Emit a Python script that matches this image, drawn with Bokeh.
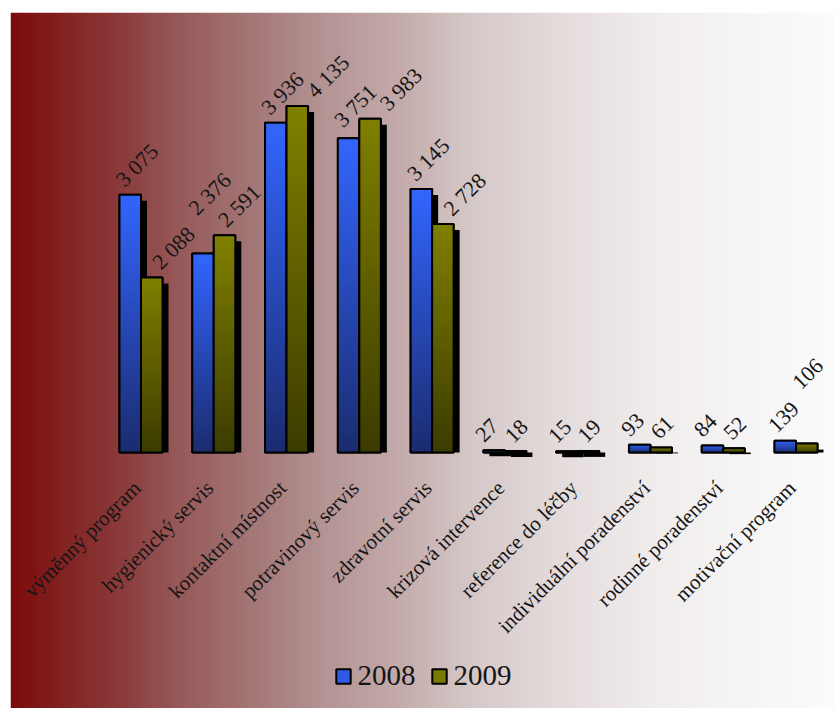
import numpy as np
from bokeh.plotting import figure
from bokeh.models import Range1d, Legend, LegendItem, ColumnDataSource
from bokeh.core.properties import value
from bokeh.embed import file_html
from bokeh.resources import INLINE

# ---------------- data ----------------
categories = ["výměnný program", "hygienický servis", "kontaktní místnost",
              "potravinový servis", "zdravotní servis", "krizová intervence",
              "reference do léčby", "individuální poradenství",
              "rodinné poradenství", "motivační program"]
values_2008 = [3075, 2376, 3936, 3751, 3145, 27, 15, 93, 84, 139]
values_2009 = [2088, 2591, 4135, 3983, 2728, 18, 19, 61, 52, 106]
series_names = ["2008", "2009"]

# ---------------- layout ----------------
W, H = 835, 708
BL, BT = 10, 12                    # frame borders (left, top)
FW, FH = W - BL, H - BT            # frame size in px
PX_CAT = 72.78                     # px per category
CAT0 = 130.5                       # px from frame left to first category centre
PX_VAL = 0.0838                    # px per unit value
BASE = 440.0                       # px from frame top to the zero line

x_start = -CAT0 / PX_CAT
x_end = x_start + FW / PX_CAT
y_end = BASE / PX_VAL
y_start = y_end - FH / PX_VAL

BAR_PX = 21.5
BAR_W = BAR_PX / PX_CAT
SH_PX = 6
SH_DX = SH_PX / PX_CAT
SH_DY = SH_PX / PX_VAL

FONT = "Liberation Serif"
VAL_FS = 22
CAT_FS = 21


def px_x(xd):
    return BL + CAT0 + PX_CAT * np.asarray(xd, dtype=float)


def px_y(yd):
    return BT + BASE - PX_VAL * np.asarray(yd, dtype=float)


def rgba(colors):
    arr = np.array(colors, dtype=np.uint8)
    out = np.zeros(arr.shape[:-1] + (4,), dtype=np.uint8)
    out[..., :3] = arr
    out[..., 3] = 255
    return out.view(dtype=np.uint32).reshape(arr.shape[:-1])


def interp_stops(stops, n):
    pos = np.array([s[0] for s in stops])
    cols = np.array([s[1] for s in stops], dtype=float)
    t = np.linspace(0, 1, n)
    return np.stack([np.interp(t, pos, cols[:, k]) for k in range(3)], axis=-1)


p = figure(width=W, height=H, x_range=Range1d(x_start, x_end),
           y_range=Range1d(y_start, y_end), output_backend="svg",
           toolbar_location=None, x_axis_location=None, y_axis_location=None,
           min_border_left=BL, min_border_top=BT, min_border_right=0,
           min_border_bottom=0, border_fill_color="white",
           outline_line_color=None)
p.xgrid.visible = False
p.ygrid.visible = False

# background gradient (dark red -> white, left to right)
bg_stops = [(0.0, (124, 12, 12)), (0.13, (138, 58, 58)), (0.20, (150, 88, 88)),
            (0.29, (164, 118, 118)), (0.38, (180, 148, 148)), (0.47, (196, 170, 170)),
            (0.55, (212, 198, 198)), (0.66, (228, 219, 219)), (0.78, (241, 237, 237)),
            (1.0, (252, 252, 252))]
bg = rgba(interp_stops(bg_stops, 400)[None, :, :])
p.image_rgba(image=[bg], x=x_start, y=y_start, dw=x_end - x_start, dh=y_end - y_start)

idx = np.arange(len(categories), dtype=float)
series = [
    dict(vals=values_2008, left=idx - BAR_W, top_col=(51, 102, 255), bot_col=(27, 44, 112), mid="#2f5ae6"),
    dict(vals=values_2009, left=idx.copy(), top_col=(128, 128, 0), bot_col=(60, 60, 0), mid="#7a7a00"),
]

# shadows
for s in series:
    v = np.array(s["vals"], dtype=float)
    p.quad(left=s["left"] + SH_DX, right=s["left"] + BAR_W + SH_DX, bottom=0,
           top=v - SH_DY, fill_color="black", line_color=None)

legend_items = []
for s, name in zip(series, series_names):
    v = np.array(s["vals"], dtype=float)
    src = ColumnDataSource(dict(left=s["left"], right=s["left"] + BAR_W,
                                top=v, bottom=np.zeros_like(v)))
    r = p.quad(left="left", right="right", top="top", bottom="bottom", source=src,
               fill_color=s["mid"], line_color="black", line_width=2)
    legend_items.append(LegendItem(label=name, renderers=[r]))
    grad = rgba(interp_stops([(0, s["bot_col"]), (1, s["top_col"])], 128)[:, None, :])
    p.image_rgba(image=[grad] * len(v), x=list(s["left"]), y=[0] * len(v),
                 dw=[BAR_W] * len(v), dh=list(v))
    p.quad(left="left", right="right", top="top", bottom="bottom", source=src,
           fill_color=None, line_color="black", line_width=2)


# ---------------- value labels: rotated 45 deg, placed greedily without overlaps ----------------
def fmt(a):
    return f"{int(a):,}".replace(",", " ")


def text_len(t):
    return VAL_FS * sum(0.25 if ch == " " else 0.5 for ch in t)


R2 = np.sqrt(0.5)
U = np.array([R2, -R2])     # text direction (screen coords)
N = np.array([R2, R2])      # perpendicular, pointing down-right
TXT_H = 20.0
PAD_L = 14.0                # extra gap along the text direction between labels
AXES = [np.array([1.0, 0.0]), np.array([0.0, 1.0]), U, N]


def label_poly(c, L, h=TXT_H):
    return [c + a * L / 2 * U + b * h / 2 * N for a in (-1, 1) for b in (-1, 1)]


def rect_poly(x0, y0, x1, y1):
    return [np.array([x0, y0]), np.array([x1, y0]), np.array([x0, y1]), np.array([x1, y1])]


def overlap(P, Q):
    for ax in AXES:
        pp = [float(pt @ ax) for pt in P]
        qq = [float(pt @ ax) for pt in Q]
        if max(pp) <= min(qq) or max(qq) <= min(pp):
            return False
    return True


obstacles = []
for s in series:
    for i, a in enumerate(s["vals"]):
        x0 = float(px_x(s["left"][i])) - 1
        x1 = float(px_x(s["left"][i] + BAR_W)) + SH_PX + 1
        y0 = float(px_y(a)) - 1
        obstacles.append(rect_poly(x0, y0, x1, float(px_y(0))))

placed = []
offsets = {0: [None] * len(categories), 1: [None] * len(categories)}
label_txt = {0: [None] * len(categories), 1: [None] * len(categories)}
DIRS = [np.array([1.0, 0.0]), np.array([0.0, -1.0]), np.array([0.0, 1.0]), np.array([-1.0, 0.0])]
for i in range(len(categories)):
    for si, s in enumerate(series):
        a = s["vals"][i]
        t = fmt(a)
        L = text_len(t)
        anchor = np.array([float(px_x(s["left"][i] + BAR_W / 2)), float(px_y(a))])
        half = (L + TXT_H) * R2 / 2
        xmax = W - 7 - (L + 25) * R2 / 2
        dx = 0.5 * (L - 22) + (-7 if si == 0 else 1)
        dy = -(5 + half)
        c0 = anchor + np.array([dx, dy])
        c0[0] = min(c0[0], xmax)
        best = c0
        found = False
        for k in range(0, 90):
            for d in DIRS:
                c = c0 + k * d
                if c[0] > xmax:
                    continue
                padded = label_poly(c, L + PAD_L)
                if any(overlap(padded, q) for q in placed):
                    continue
                if any(overlap(label_poly(c, L), q) for q in obstacles):
                    continue
                best = c
                found = True
                break
            if found:
                break
        placed.append(label_poly(best, L + PAD_L))
        offsets[si][i] = best - anchor
        label_txt[si][i] = t

for si, s in enumerate(series):
    v = np.array(s["vals"], dtype=float)
    src = ColumnDataSource(dict(x=s["left"] + BAR_W / 2, y=v, text=label_txt[si],
                                xo=[float(o[0]) for o in offsets[si]],
                                yo=[float(o[1]) for o in offsets[si]]))
    p.text(x="x", y="y", text="text", source=src, angle=np.pi / 4,
           text_align="center", text_baseline="middle", x_offset="xo", y_offset="yo",
           text_font=value(FONT), text_font_size=f"{VAL_FS}px", text_color="#151515")

# category labels
p.text(x=idx, y=[0] * len(categories), text=categories, angle=np.pi / 4,
       text_align="right", text_baseline="middle", x_offset=-4, y_offset=32,
       text_font=value(FONT), text_font_size=f"{CAT_FS}px", text_color="#151515")

legend = Legend(items=legend_items, orientation="horizontal", location="bottom_center",
                label_text_font=FONT, label_text_font_size="29px",
                label_text_color="#151515", glyph_width=18, glyph_height=18,
                label_standoff=6, spacing=14, padding=0, margin=16,
                label_height=30, background_fill_alpha=0, border_line_color=None)
p.add_layout(legend)

open("out.html", "w").write(file_html(p, INLINE))
